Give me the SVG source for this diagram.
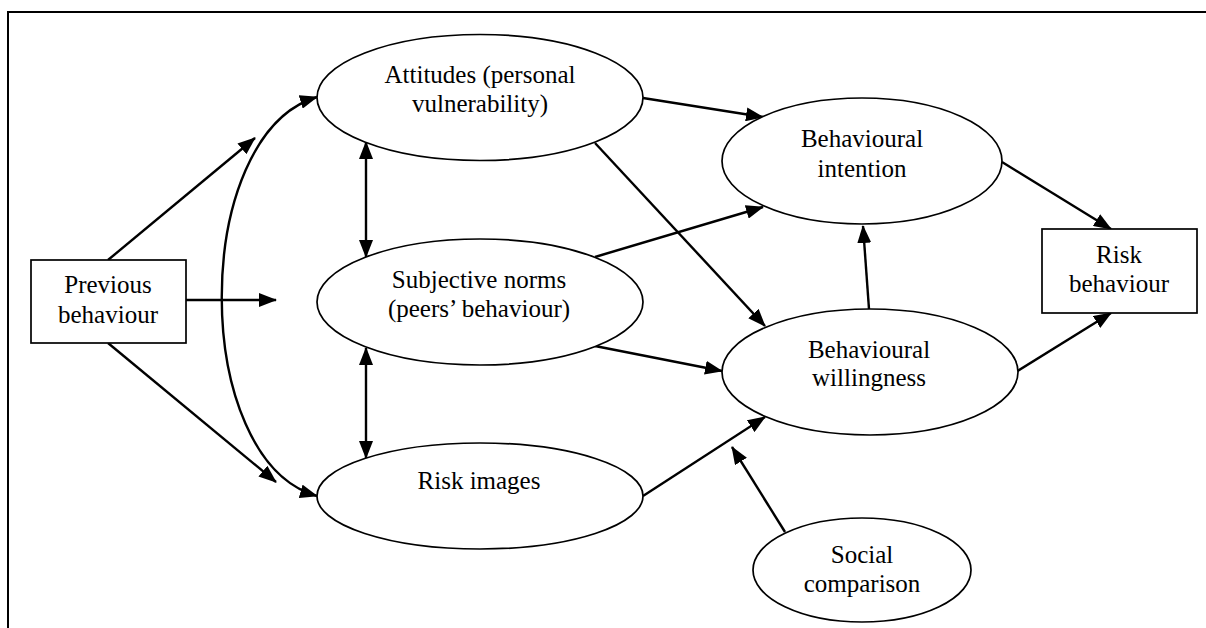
<svg xmlns="http://www.w3.org/2000/svg" width="1206" height="628" viewBox="0 0 1206 628">
<style>
.shape{fill:#fff;stroke:#000;stroke-width:1.7}
.lbl{font-family:'Liberation Serif','Tinos','Times New Roman','DejaVu Serif',serif;font-size:25px;fill:#000;text-anchor:middle}
.con{fill:none;stroke:#000;stroke-width:2.4}
</style>
<defs>
<marker id="ah" markerUnits="userSpaceOnUse" markerWidth="18" markerHeight="14" refX="17" refY="7" orient="auto-start-reverse">
<path d="M0,0 L18,7 L0,14 z" fill="#000"/>
</marker>
</defs>
<rect x="0" y="0" width="1206" height="628" fill="#fff"/>
<rect x="8" y="12" width="1220" height="640" fill="none" stroke="#000" stroke-width="2"/>
<g id="connectors">
<line class="con" x1="108" y1="260" x2="255" y2="138" marker-end="url(#ah)"/>
<line class="con" x1="186" y1="300" x2="276" y2="300" marker-end="url(#ah)"/>
<line class="con" x1="108" y1="343" x2="276" y2="482" marker-end="url(#ah)"/>
<path class="con" d="M317,97 C190,135 190,460 317,496" marker-start="url(#ah)" marker-end="url(#ah)"/>
<line class="con" x1="366" y1="142" x2="366" y2="257" marker-start="url(#ah)" marker-end="url(#ah)"/>
<line class="con" x1="366" y1="348" x2="366" y2="458" marker-start="url(#ah)" marker-end="url(#ah)"/>
<line class="con" x1="643" y1="98" x2="763" y2="117" marker-end="url(#ah)"/>
<line class="con" x1="595" y1="143" x2="765" y2="326" marker-end="url(#ah)"/>
<line class="con" x1="595" y1="257" x2="763" y2="207" marker-end="url(#ah)"/>
<line class="con" x1="595" y1="346" x2="722" y2="371" marker-end="url(#ah)"/>
<line class="con" x1="643" y1="496" x2="765" y2="417" marker-end="url(#ah)"/>
<line class="con" x1="785" y1="532" x2="732" y2="447" marker-end="url(#ah)"/>
<line class="con" x1="869" y1="309" x2="863" y2="226" marker-end="url(#ah)"/>
<line class="con" x1="1002" y1="162" x2="1111" y2="229" marker-end="url(#ah)"/>
<line class="con" x1="1016" y1="372" x2="1111" y2="313" marker-end="url(#ah)"/>
</g>
<g id="previous-behaviour">
<rect class="shape" x="31" y="260" width="155" height="83"/>
<text class="lbl" font-family="Liberation Serif, serif" x="108" y="293">Previous</text>
<text class="lbl" font-family="Liberation Serif, serif" x="108" y="323">behaviour</text>
</g>
<g id="attitudes">
<ellipse class="shape" cx="480" cy="97.5" rx="163" ry="63"/>
<text class="lbl" x="480" y="83">Attitudes (personal</text>
<text class="lbl" x="480" y="112">vulnerability)</text>
</g>
<g id="subjective-norms">
<ellipse class="shape" cx="480" cy="302" rx="163" ry="63"/>
<text class="lbl" x="479" y="288">Subjective norms</text>
<text class="lbl" x="479" y="317">(peers’ behaviour)</text>
</g>
<g id="risk-images">
<ellipse class="shape" cx="480" cy="496" rx="163" ry="53"/>
<text class="lbl" x="479" y="489">Risk images</text>
</g>
<g id="behavioural-intention">
<ellipse class="shape" cx="862" cy="161" rx="140" ry="63"/>
<text class="lbl" x="862" y="147">Behavioural</text>
<text class="lbl" x="862" y="177">intention</text>
</g>
<g id="behavioural-willingness">
<ellipse class="shape" cx="870" cy="372" rx="148" ry="63"/>
<text class="lbl" x="869" y="358">Behavioural</text>
<text class="lbl" x="869" y="386">willingness</text>
</g>
<g id="social-comparison">
<ellipse class="shape" cx="862" cy="570" rx="109" ry="52"/>
<text class="lbl" x="862" y="563">Social</text>
<text class="lbl" x="862" y="592">comparison</text>
</g>
<g id="risk-behaviour">
<rect class="shape" x="1042" y="229" width="155" height="84"/>
<text class="lbl" x="1119" y="263">Risk</text>
<text class="lbl" x="1119" y="292">behaviour</text>
</g>
</svg>
